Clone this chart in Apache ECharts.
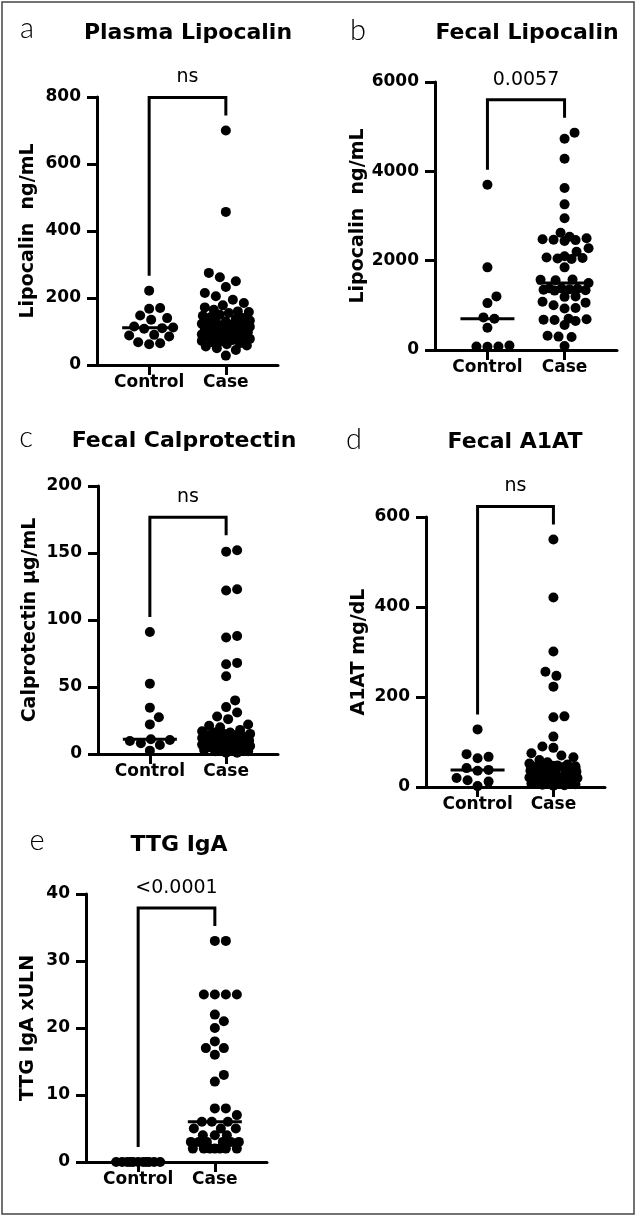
<!DOCTYPE html>
<html>
<head>
<meta charset="utf-8">
<script src="https://cdn.jsdelivr.net/npm/echarts@6/dist/echarts.min.js"></script>
<style>
  html, body { margin: 0; padding: 0; background: #fff; }
  #chart { width: 638px; height: 1217px; }
</style>
</head>
<body>
<div id="chart"></div>
<script>
// ---------------- DATA ----------------
const categories = ['Control', 'Case'];

const plasmaLipControl = [222, 170, 168, 148, 140, 135, 115, 112, 110, 108, 90, 88, 85, 68, 65, 62];
const plasmaLipCase = [700, 457, 275, 262, 250, 233, 215, 205, 195, 185, 178, 172, 165, 160, 158,
  155, 150, 147, 143, 140, 137, 133, 130, 128, 125, 123, 121, 120, 119, 118, 116, 114, 112, 110,
  108, 105, 103, 100, 98, 96, 94, 92, 90, 88, 85, 83, 80, 78, 75, 72, 70, 68, 65, 62, 58, 55, 50, 45, 28];

const fecalLipControl = [3700, 1850, 1200, 1050, 730, 700, 500, 100, 80, 80, 70];
const fecalLipCase = [4866, 4730, 4283, 3627, 3261, 2948, 2627, 2537, 2500, 2480, 2470, 2460, 2440,
  2276, 2200, 2100, 2070, 2060, 2050, 2040, 1850, 1580, 1570, 1560, 1500, 1380, 1380, 1370, 1360,
  1350, 1340, 1330, 1200, 1190, 1080, 1060, 1000, 940, 930, 700, 690, 680, 670, 650, 560, 320, 300, 290, 90];

const calproControl = [91, 52.5, 34.6, 27.4, 22.1, 11, 10.4, 9.7, 8, 6.7, 2.5];
const calproCase = [152, 151, 123, 122, 88, 87, 68, 67, 58, 40, 35, 31, 28, 26, 22, 21, 20, 18, 17,
  16, 16, 15, 15, 14, 14, 14, 13, 12, 12, 11, 10, 10, 9, 9, 8, 8, 7, 7, 6, 6, 5, 5, 4, 4, 3, 3, 2, 2, 1, 1];

const a1atControl = [128, 73, 67, 64, 42, 38, 36, 20, 15, 12, 2];
const a1atCase = [550, 421, 301, 256, 247, 223, 157, 155, 112, 90, 87, 75, 70, 66, 60, 55, 52, 50, 48,
  47, 46, 45, 45, 44, 43, 42, 40, 38, 36, 34, 32, 30, 28, 26, 25, 23, 21, 20, 18, 16, 15, 13, 12, 10,
  9, 8, 6, 5, 4, 3];

const ttgControl = [0, 0, 0, 0, 0, 0, 0, 0, 0, 0, 0];
const ttgCase = [33, 33, 25, 25, 25, 25, 22, 21, 20, 18, 17, 17, 16, 13, 12, 8, 8, 7, 6, 6,
  6, 5, 5, 5, 4, 4, 4, 3, 3, 3, 3, 3, 3, 2, 2, 2, 2, 2, 2, 2];

const panelTitles = ['Plasma Lipocalin', 'Fecal Lipocalin', 'Fecal Calprotectin', 'Fecal A1AT', 'TTG IgA'];
const panelLetters = ['a', 'b', 'c', 'd', 'e'];
const yAxisNames = ['Lipocalin  ng/mL', 'Lipocalin  ng/mL', 'Calprotectin \u00b5g/mL', 'A1AT mg/dL', 'TTG IgA xULN'];
const pValueLabels = ['ns', '0.0057', 'ns', 'ns', '<0.0001'];
const yMaxes = [800, 6000, 200, 600, 40];
const yIntervals = [200, 2000, 50, 200, 10];

const groups = [
  [plasmaLipControl, plasmaLipCase],
  [fecalLipControl, fecalLipCase],
  [calproControl, calproCase],
  [a1atControl, a1atCase],
  [ttgControl, ttgCase]
];

// ---------------- LAYOUT ----------------
const layout = [
  { grid: { left: 97, top: 97, width: 181, height: 268 }, title: [188, 33], letter: [27, 29], nameGap: 59 },
  { grid: { left: 435, top: 82, width: 182, height: 268 }, title: [527, 33], letter: [358, 31], nameGap: 66 },
  { grid: { left: 98, top: 486, width: 180, height: 268 }, title: [184, 441], letter: [26, 438], nameGap: 58 },
  { grid: { left: 426, top: 517, width: 179, height: 270 }, title: [515, 442], letter: [354, 440], nameGap: 57 },
  { grid: { left: 86, top: 894, width: 181, height: 268 }, title: [179, 845], letter: [37, 841], nameGap: 48 }
];
const X_MIN = 0.32, X_MAX = 2.68;
const FONT = '"DejaVu Sans", "Liberation Sans", sans-serif';

function median(arr) {
  const s = arr.slice().sort((a, b) => a - b);
  const n = s.length;
  return n % 2 ? s[(n - 1) / 2] : (s[n / 2 - 1] + s[n / 2]) / 2;
}

// deterministic beeswarm in pixel space
function swarm(values, center, pxPerX, pxPerY, D, maxHalf) {
  const sorted = values.slice().sort((a, b) => a - b);
  const placed = [];
  const out = [];
  for (const v of sorted) {
    const y = v * pxPerY;
    let best = 0, bestD = -1, found = false;
    for (let i = 0; i <= maxHalf && !found; i++) {
      const cands = i === 0 ? [0] : [i, -i];
      for (const off of cands) {
        let md = Infinity;
        for (const p of placed) {
          const d = Math.hypot(p.x - off, p.y - y);
          if (d < md) md = d;
        }
        if (md >= D) { best = off; found = true; break; }
        if (md > bestD + 0.01) { bestD = md; best = off; }
      }
    }
    placed.push({ x: best, y: y });
    out.push([center + best / pxPerX, v]);
  }
  return out;
}

const option = {
  backgroundColor: '#fff',
  animation: false,
  title: [],
  grid: [],
  xAxis: [],
  yAxis: [],
  series: [],
  graphic: [{
    type: 'rect', silent: true,
    shape: { x: 2, y: 2, width: 632, height: 1212 },
    style: { fill: null, stroke: '#444', lineWidth: 1.5 }
  }]
};

groups.forEach((g, i) => {
  const L = layout[i];
  option.grid.push(Object.assign({ containLabel: false }, L.grid));
  option.title.push({
    text: panelTitles[i], left: L.title[0], top: L.title[1], padding: 0,
    textAlign: 'center', textVerticalAlign: 'middle',
    textStyle: { fontFamily: FONT, fontWeight: 'bold', fontSize: 22, color: '#000' }
  });
  option.title.push({
    text: panelLetters[i], left: L.letter[0], top: L.letter[1], padding: 0,
    textAlign: 'center', textVerticalAlign: 'middle',
    textStyle: { fontFamily: 'Lato, "Open Sans", sans-serif', fontWeight: 300, fontSize: 29, color: '#000' }
  });
  option.xAxis.push({
    type: 'value', gridIndex: i, min: X_MIN, max: X_MAX,
    splitLine: { show: false },
    axisLine: { show: true, onZero: false, lineStyle: { color: '#000', width: 3 } },
    axisTick: { show: true, customValues: [1, 2], length: 10, lineStyle: { color: '#000', width: 3 } },
    axisLabel: {
      customValues: [1, 2], margin: 9, color: '#000',
      fontFamily: FONT, fontWeight: 'bold', fontSize: 17,
      formatter: v => categories[Math.round(v) - 1] || ''
    }
  });
  option.yAxis.push({
    type: 'value', gridIndex: i, min: 0, max: yMaxes[i], interval: yIntervals[i],
    name: yAxisNames[i], nameLocation: 'middle', nameGap: L.nameGap, nameRotate: 90,
    nameTextStyle: { fontFamily: FONT, fontWeight: 'bold', fontSize: 19, color: '#000' },
    splitLine: { show: false },
    axisLine: { show: true, lineStyle: { color: '#000', width: 3 } },
    axisTick: { show: true, length: 10, lineStyle: { color: '#000', width: 3 } },
    axisLabel: {
      margin: 16, color: '#000', fontFamily: FONT, fontWeight: 'bold', fontSize: 17,
      formatter: v => String(v)
    }
  });

  const pxPerX = L.grid.width / (X_MAX - X_MIN);
  const pxPerY = L.grid.height / yMaxes[i];
  const pts = swarm(g[0], 1, pxPerX, pxPerY, 11, 24).concat(swarm(g[1], 2, pxPerX, pxPerY, 11, 24));

  option.series.push({
    type: 'scatter', xAxisIndex: i, yAxisIndex: i, data: pts,
    symbol: 'circle', symbolSize: 10, itemStyle: { color: '#000', opacity: 1 }, silent: true, z: 2
  });

  option.series.push({
    type: 'custom', xAxisIndex: i, yAxisIndex: i, silent: true, z: 3,
    data: [[1, median(g[0])], [2, median(g[1])]],
    renderItem: (params, api) => {
      const p = api.coord([api.value(0), api.value(1)]);
      return {
        type: 'line',
        shape: { x1: p[0] - 27, y1: p[1], x2: p[0] + 27, y2: p[1] },
        style: { stroke: '#000', lineWidth: 3 }
      };
    }
  });

  const labelText = pValueLabels[i];
  option.series.push({
    type: 'custom', xAxisIndex: i, yAxisIndex: i, silent: true, z: 3, clip: false,
    encode: { x: [0, 2], y: [1, 3] },
    data: [[1, Math.max.apply(null, g[0]), 2, Math.max.apply(null, g[1])]],
    renderItem: (params, api) => {
      const c1 = api.coord([api.value(0), api.value(1)]);
      const c2 = api.coord([api.value(2), api.value(3)]);
      const b1 = c1[1] - 15, b2 = c2[1] - 15;
      const top = Math.min(b1, b2) - 18;
      return {
        type: 'group',
        children: [
          {
            type: 'polyline',
            shape: { points: [[c1[0], b1], [c1[0], top], [c2[0], top], [c2[0], b2]] },
            style: { stroke: '#000', lineWidth: 3, fill: null, lineJoin: 'miter' }
          },
          {
            type: 'text',
            x: (c1[0] + c2[0]) / 2, y: top - 20,
            style: {
              text: labelText, align: 'center', verticalAlign: 'middle',
              fontFamily: FONT, fontSize: 19, fill: '#000'
            }
          }
        ]
      };
    }
  });
});

const chart = echarts.init(document.getElementById('chart'), null, { renderer: 'canvas' });
chart.setOption(option);
</script>
</body>
</html>
